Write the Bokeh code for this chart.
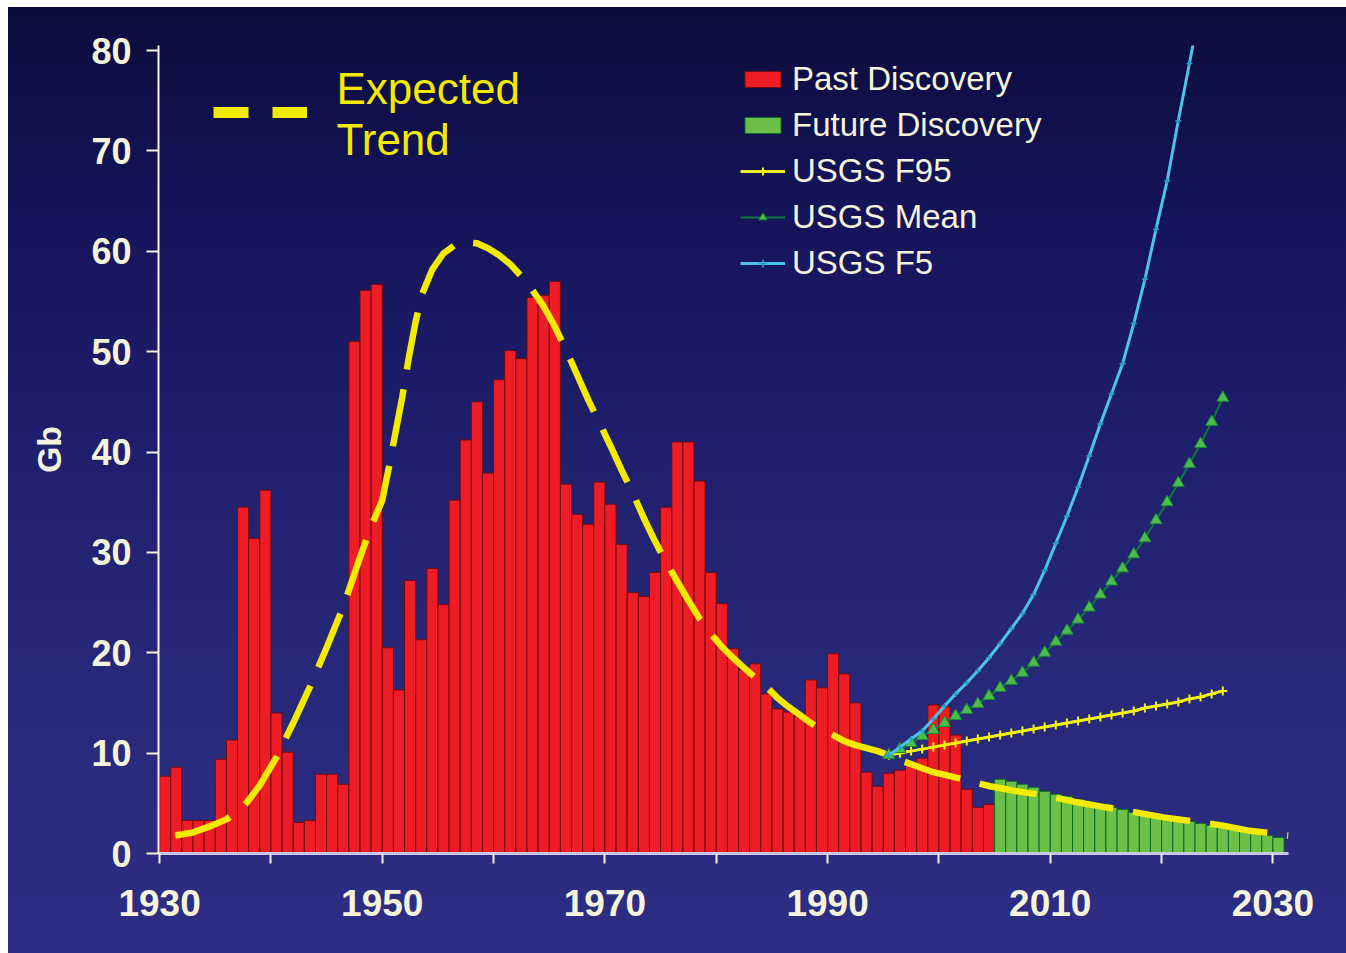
from bokeh.plotting import figure
from bokeh.models import Range1d, FixedTicker, Legend, LegendItem, Label
from bokeh.embed import file_html
from bokeh.resources import INLINE

# ---------------- data ----------------
past_years = list(range(1930, 2005))
past_values = [7.7, 8.6, 3.3, 3.3, 3.3, 9.4, 11.3, 34.5, 31.4, 36.2,
               14.0, 10.1, 3.1, 3.3, 7.9, 7.9, 6.9, 51.0, 56.1, 56.7,
               20.5, 16.3, 27.2, 21.3, 28.4, 24.8, 35.2, 41.2, 45.0, 37.9,
               47.2, 50.1, 49.3, 55.4, 55.6, 57.0, 36.8, 33.8, 32.8, 37.0,
               34.8, 30.8, 26.0, 25.6, 28.0, 34.5, 41.0, 41.0, 37.1, 28.0,
               24.9, 20.4, 18.3, 18.9, 15.9, 14.4, 14.1, 13.7, 17.3, 16.5,
               19.9, 17.9, 15.0, 8.1, 6.7, 8.0, 8.3, 8.8, 9.5, 14.8,
               14.6, 11.8, 6.4, 4.6, 4.9]

future_years = list(range(2005, 2031))
future_values = [7.4, 7.2, 6.9, 6.6, 6.2, 5.9, 5.7, 5.4, 5.1, 4.9,
                 4.6, 4.4, 4.1, 4.0, 3.8, 3.6, 3.4, 3.2, 3.0, 2.8,
                 2.7, 2.5, 2.3, 2.1, 1.8, 1.6]

usgs_years = list(range(1995, 2026))
usgs_f95 = [9.8, 10.0, 10.2, 10.4, 10.6, 10.8, 11.0, 11.2, 11.4, 11.6,
            11.8, 12.0, 12.2, 12.4, 12.6, 12.8, 13.0, 13.2, 13.4, 13.6,
            13.8, 14.0, 14.2, 14.5, 14.7, 14.9, 15.1, 15.4, 15.6, 15.9, 16.2]
usgs_mean = [9.8, 10.4, 11.0, 11.7, 12.3, 13.0, 13.7, 14.3, 14.9, 15.7,
             16.5, 17.2, 18.0, 19.0, 20.0, 21.1, 22.2, 23.3, 24.5, 25.8,
             27.1, 28.4, 29.8, 31.4, 33.2, 35.0, 36.9, 38.8, 40.8, 43.0, 45.4]
f5_years = list(range(1995, 2024))
usgs_f5 = [9.8, 10.6, 11.4, 12.2, 13.4, 14.7, 15.9, 17.0, 18.2, 19.5,
           20.9, 22.4, 23.9, 25.8, 28.2, 30.9, 33.6, 36.5, 39.6, 42.8,
           45.8, 48.8, 52.8, 57.2, 62.2, 67.0, 73.0, 78.7, 84.5]

trend_years = [1931.4, 1933.0, 1934.5, 1936.0, 1937.5, 1939.0, 1940.5, 1942.0, 1943.5,
               1945.0, 1946.5, 1948.0, 1949.0, 1950.0, 1950.6, 1951.2, 1951.8, 1952.4,
               1953.0, 1953.6, 1954.5, 1955.5, 1956.5, 1957.5, 1958.5, 1959.5, 1960.5,
               1961.5, 1962.5, 1963.5, 1964.5, 1965.5, 1966.5, 1967.5, 1968.5, 1969.5,
               1970.5, 1971.5, 1972.5, 1973.5, 1974.5, 1975.5, 1976.5, 1977.5, 1978.5,
               1979.5, 1980.5, 1981.5, 1982.5, 1983.5, 1984.5, 1985.5, 1986.5, 1987.5,
               1988.5, 1989.5, 1990.5, 1991.5, 1992.5, 1993.5, 1994.5, 1995.5, 1996.5,
               1997.5, 1998.5, 1999.5, 2001.0, 2002.5, 2004.6, 2007.0, 2009.5, 2012.4,
               2015.0, 2017.7, 2020.2, 2022.8, 2025.4, 2027.7, 2031.4]
trend_values = [1.8, 2.1, 2.7, 3.4, 4.6, 6.8, 9.6, 13.0, 16.6,
                20.5, 24.6, 29.5, 32.6, 35.2, 38.5, 42.0, 45.5, 49.5,
                53.0, 55.8, 58.2, 59.8, 60.6, 60.9, 60.8, 60.3, 59.6,
                58.7, 57.5, 56.1, 54.5, 52.5, 50.2, 47.7, 45.2, 42.9,
                40.6, 38.2, 35.9, 33.4, 31.1, 29.0, 27.1, 25.2, 23.4,
                21.9, 20.6, 19.5, 18.5, 17.5, 16.6, 15.5, 14.6, 13.8,
                13.0, 12.3, 11.8, 11.2, 10.8, 10.5, 10.2, 9.8, 9.3,
                8.9, 8.5, 8.1, 7.7, 7.3, 6.7, 6.2, 5.8, 5.1,
                4.6, 4.1, 3.6, 3.2, 2.8, 2.3, 1.8]

x_ticks = [1930, 1940, 1950, 1960, 1970, 1980, 1990, 2000, 2010, 2020, 2030]
x_tick_labels = {1930: "1930", 1940: "", 1950: "1950", 1960: "", 1970: "1970",
                 1980: "", 1990: "1990", 2000: "", 2010: "2010", 2020: "", 2030: "2030"}
y_ticks = [0, 10, 20, 30, 40, 50, 60, 70, 80]

# ---------------- styles ----------------
FONT = "Liberation Sans"
CREAM = "#f4f4dc"
YELLOW = "#f2ea00"
GRADIENT = ("linear-gradient(180deg, #0c0c3c 0%, #15145a 22%, #1f1e6c 45%, "
            "#28287a 70%, #2d2d84 100%) 8px 7px / 1338px 946px no-repeat, #ffffff")

p = figure(width=1346, height=953, output_backend="svg", toolbar_location=None,
           x_range=Range1d(1929.9, 2031.4), y_range=Range1d(0, 80.5),
           min_border_left=158, min_border_right=58, min_border_top=45, min_border_bottom=100,
           border_fill_color=None, background_fill_color=None, outline_line_color=None,
           styles={"background": GRADIENT})
p.grid.visible = False

past_r = p.vbar(x=[y + 0.5 for y in past_years], top=past_values, width=1.0, bottom=0,
                fill_color="#ee1c24", line_color="#6e0c10", line_width=1)
future_r = p.vbar(x=[y + 0.5 for y in future_years], top=future_values, width=1.0, bottom=0,
                  fill_color="#6cbf47", line_color="#0b6a2c", line_width=1)

trend_r = p.line(trend_years, trend_values, line_color=YELLOW, line_width=6.5,
                 line_dash="58 20")

f95_line = p.line([y + 0.5 for y in usgs_years], usgs_f95, line_color="#eeee20", line_width=3)
f95_mark = p.scatter([y + 0.5 for y in usgs_years], usgs_f95, marker="cross", size=9,
                     line_color="#f4f400", line_width=2)
mean_line = p.line([y + 0.5 for y in usgs_years], usgs_mean, line_color="#0c7a3c", line_width=2)
mean_mark = p.scatter([y + 0.5 for y in usgs_years], usgs_mean, marker="triangle", size=12,
                      fill_color="#4cbc4a", line_color="#1a8a3a", line_width=1)
f5_line = p.line([y + 0.5 for y in f5_years], usgs_f5, line_color="#4cc4ea", line_width=3)
f5_mark = p.scatter([y + 0.5 for y in f5_years], usgs_f5, marker="cross", size=6,
                    line_color="#2aa0c8", line_width=1.5)

# dashed sample for the "Expected Trend" key: a single NaN point, so it draws nothing itself
trend_key = p.line([float("nan")], [float("nan")], line_color=YELLOW, line_width=11,
                   line_dash="35 24")

# ---------------- axes ----------------
for ax in (p.xaxis[0], p.yaxis[0]):
    ax.axis_line_color = CREAM
    ax.axis_line_width = 2
    ax.major_tick_line_color = CREAM
    ax.major_tick_line_width = 2
    ax.major_tick_in = 0
    ax.minor_tick_line_color = None
    ax.major_label_text_color = CREAM
    ax.major_label_text_font = FONT
    ax.major_label_text_font_style = "bold"

p.yaxis.ticker = FixedTicker(ticks=y_ticks)
p.yaxis.major_tick_out = 12
p.yaxis.major_label_text_font_size = "36px"
p.yaxis.major_label_standoff = 15
p.yaxis.axis_label = "Gb"
p.yaxis.axis_label_text_font = FONT
p.yaxis.axis_label_text_font_size = "34px"
p.yaxis.axis_label_text_font_style = "bold"
p.yaxis.axis_label_text_color = CREAM
p.yaxis.axis_label_standoff = 20

p.xaxis.ticker = FixedTicker(ticks=x_ticks)
p.xaxis.major_label_overrides = x_tick_labels
p.xaxis.major_tick_out = 10
p.xaxis.major_label_text_font_size = "37px"
p.xaxis.major_label_standoff = 26
p.xaxis.axis_line_color = "#c8c8e4"
p.xaxis.axis_line_width = 3

# ---------------- legends ----------------
legend = Legend(items=[
    LegendItem(label="Past Discovery", renderers=[past_r]),
    LegendItem(label="Future Discovery", renderers=[future_r]),
    LegendItem(label="USGS F95", renderers=[f95_line, f95_mark]),
    LegendItem(label="USGS Mean", renderers=[mean_line, mean_mark]),
    LegendItem(label="USGS F5", renderers=[f5_line, f5_mark]),
], location=(582, 571), padding=0, margin=0, spacing=8,
    glyph_width=45, glyph_height=20, label_height=34, label_standoff=7,
    label_text_font=FONT, label_text_font_size="33px", label_text_color=CREAM,
    background_fill_alpha=0, border_line_color=None)
p.add_layout(legend)

key = Legend(items=[LegendItem(label="Expected", renderers=[trend_key])],
             location=(55, 735), padding=0, margin=0, glyph_width=94, glyph_height=12,
             label_height=12, label_standoff=0, label_text_font_size="2px",
             label_text_alpha=0,
             background_fill_alpha=0, border_line_color=None)
p.add_layout(key)

for txt, ypos in (("Expected", 765), ("Trend", 714)):
    p.add_layout(Label(x=178, y=ypos, x_units="screen", y_units="screen", text=txt,
                       text_font=FONT, text_font_size="44px", text_color=YELLOW,
                       text_baseline="alphabetic", text_align="left"))

open("out.html", "w").write(file_html(p, INLINE))
